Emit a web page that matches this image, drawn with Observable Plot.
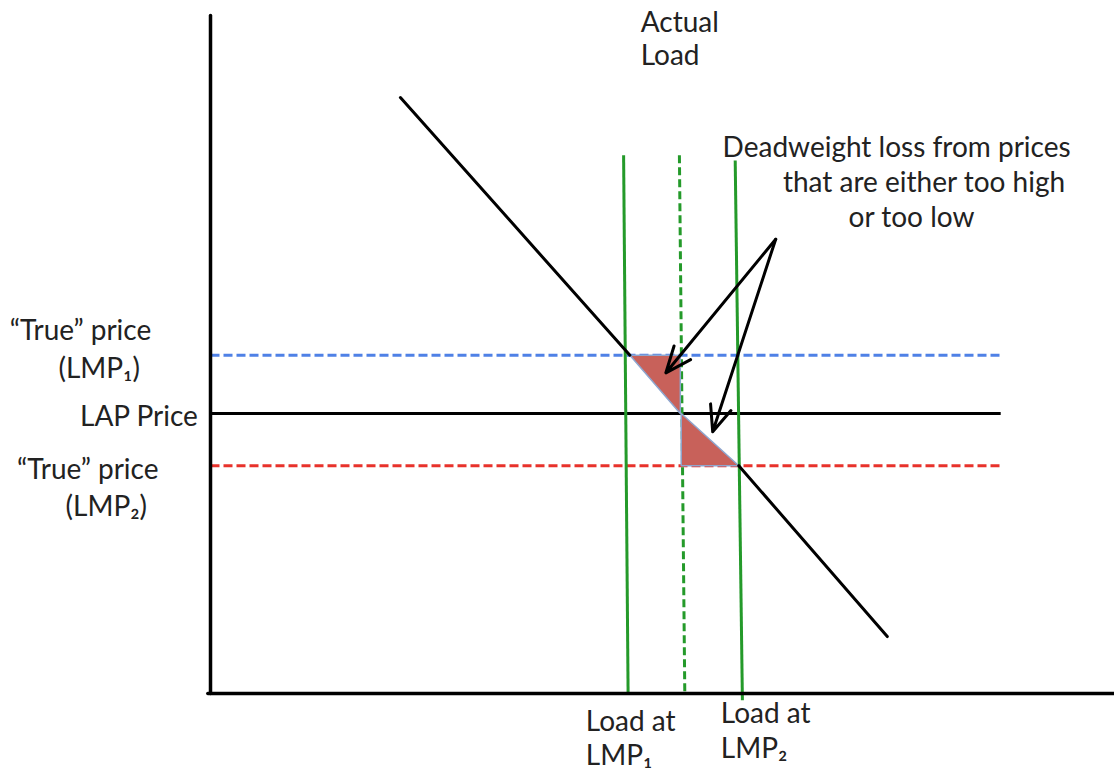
<!DOCTYPE html>
<html>
<head>
<meta charset="utf-8">
<script src="https://cdn.jsdelivr.net/npm/d3@7"></script>
<script src="https://cdn.jsdelivr.net/npm/@observablehq/plot@0.6"></script>
<style>
  html, body { margin: 0; padding: 0; background: #fff; }
  #chart svg { display: block; }
</style>
</head>
<body>
<div id="chart"></div>
<script>
// Quantity (x) and price (y) in abstract units; origin at the axes corner.
const axesY = [{x: 0, y: 0}, {x: 0, y: 100}];
const axesX = [{x: -0.3, y: 0}, {x: 100.4, y: 0}];
// demand curve, drawn in two pieces (the middle is covered by the loss triangles)
const demandUpper = [{x: 21.1, y: 87.9}, {x: 46.6, y: 49.9}];
const demandLower = [{x: 58.7, y: 33.6}, {x: 75.2, y: 8.4}];

const priceLevels = [
  {name: "LMP1", x1: 0, x2: 87.8, y: 49.9, color: "#4f81e6", dash: "9,4"},
  {name: "LAP", x1: 0, x2: 87.8, y: 41.3, color: "#000000", dash: null},
  {name: "LMP2", x1: 0, x2: 87.8, y: 33.6, color: "#e8322b", dash: "9,4"}
];

const loadLines = [
  {name: "Load at LMP1", x1: 45.9, y1: 79.4, x2: 46.4, y2: 0, dashed: false},
  {name: "Actual Load", x1: 52.1, y1: 79.4, x2: 52.7, y2: 0, dashed: true},
  {name: "Load at LMP2", x1: 58.3, y1: 78.6, x2: 59.1, y2: -1, dashed: false}
];

const dwlHigh = [{x: 46.6, y: 49.9}, {x: 52.2, y: 49.9}, {x: 52.2, y: 41.3}, {x: 46.6, y: 49.9}];
const dwlLow = [{x: 52.3, y: 41.3}, {x: 52.3, y: 33.6}, {x: 58.7, y: 33.6}, {x: 52.3, y: 41.3}];

const arrows = [
  {x1: 62.8, y1: 67.0, x2: 50.6, y2: 47.3},
  {x1: 62.8, y1: 67.0, x2: 55.8, y2: 38.6}
];

const labels = [
  {text: "Actual", x: 47.8, y: 97.6},
  {text: "Load", x: 47.8, y: 92.7},
  {text: "Deadweight loss from prices", x: 56.9, y: 79.1},
  {text: "that are either too high", x: 63.6, y: 73.9},
  {text: "or too low", x: 70.9, y: 68.8},
  {text: "\u201CTrue\u201D price", x: -22.3, y: 52.1},
  {text: "(LMP\u2081)", x: -16.9, y: 46.6},
  {text: "LAP Price", x: -14.5, y: 39.4},
  {text: "\u201CTrue\u201D price", x: -21.5, y: 31.6},
  {text: "(LMP\u2082)", x: -16.1, y: 26.2},
  {text: "Load at", x: 41.7, y: -5.5},
  {text: "LMP\u2081", x: 41.7, y: -10.6},
  {text: "Load at", x: 56.7, y: -4.3},
  {text: "LMP\u2082", x: 56.7, y: -9.5}
];

const chart = Plot.plot({
  width: 1114,
  height: 781,
  marginLeft: 210,
  marginRight: 4,
  marginTop: 15,
  marginBottom: 88,
  x: {domain: [0, 100], axis: null},
  y: {domain: [0, 100], axis: null},
  style: {fontFamily: "Lato, 'Open Sans', sans-serif", background: "#fff"},
  marks: [
    // price levels
    ...priceLevels.map(p => Plot.link([p], {
      x1: "x1", x2: "x2", y1: "y", y2: "y", stroke: p.color, strokeWidth: 3,
      strokeDasharray: p.dash
    })),
    // load lines
    Plot.link(loadLines.filter(d => !d.dashed), {
      x1: "x1", y1: "y1", x2: "x2", y2: "y2", stroke: "#249a2a", strokeWidth: 3
    }),
    Plot.link(loadLines.filter(d => d.dashed), {
      x1: "x1", y1: "y1", x2: "x2", y2: "y2", stroke: "#249a2a", strokeWidth: 3,
      strokeDasharray: "8,4"
    }),
    // deadweight-loss triangles
    Plot.line(dwlHigh, {x: "x", y: "y", fill: "#c8615a", stroke: "#8ea6cf", strokeWidth: 1.5}),
    Plot.line(dwlLow, {x: "x", y: "y", fill: "#c8615a", stroke: "#8ea6cf", strokeWidth: 1.5}),
    // demand curve
    Plot.line(demandUpper, {x: "x", y: "y", stroke: "#000", strokeWidth: 3}),
    Plot.line(demandLower, {x: "x", y: "y", stroke: "#000", strokeWidth: 3}),
    // axes
    Plot.line(axesY, {x: "x", y: "y", stroke: "#000", strokeWidth: 3.5}),
    Plot.line(axesX, {x: "x", y: "y", stroke: "#000", strokeWidth: 3.5}),
    // arrows
    Plot.arrow(arrows, {
      x1: "x1", y1: "y1", x2: "x2", y2: "y2", stroke: "#000", strokeWidth: 3,
      headLength: 14, headAngle: 45
    }),
    // labels
    Plot.text(labels, {
      x: "x", y: "y", text: "text", textAnchor: "start",
      fontSize: 28, fill: "#222", lineAnchor: "bottom"
    })
  ]
});
document.getElementById("chart").appendChild(chart);
</script>
</body>
</html>
